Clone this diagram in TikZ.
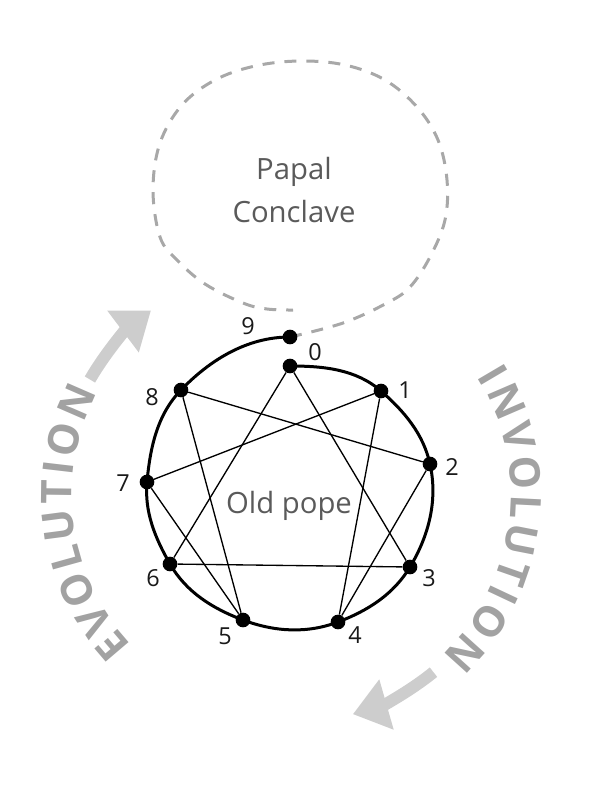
\documentclass[tikz,border=0pt]{standalone}
\usepackage{fontspec}
\setmainfont{Open Sans}
\usetikzlibrary{decorations.text,arrows.meta,calc}
\definecolor{dashgray}{HTML}{A8A8A8}
\definecolor{txtgray}{HTML}{5A5A5A}
\definecolor{evogray}{HTML}{A2A2A2}
\definecolor{arrgray}{HTML}{CDCDCD}
\newcommand\evofont{\fontsize{36}{36}\selectfont\bfseries\color{evogray}}
\begin{document}
\begin{tikzpicture}[x=0.03cm,y=0.03cm,
 dot/.style={circle,fill=black,inner sep=0pt,minimum size=0.44cm},
 num/.style={font=\fontsize{20}{20}\selectfont,text=black!90,inner sep=0pt},
 rim/.style={line width=0.09cm,line cap=round,looseness=0.9},
 chord/.style={line width=0.04cm},
 conclave/.style={dashgray,line width=0.09cm,dash pattern=on 0.36cm off 0.3cm},
 lbl/.style={font=\fontsize{25}{37.5}\selectfont,text=txtgray,align=center,inner sep=0pt},
 bigarrow/.style={arrgray,line width=0.36cm,-{Triangle[length=1.05cm,width=1.5cm]}}]
\useasboundingbox (0,0) rectangle (594,-786);
\coordinate (C) at (290,-495);
\coordinate (c0) at (290,-366);
\coordinate (c1) at (381,-391);
\coordinate (c2) at (430,-464);
\coordinate (c3) at (410,-567);
\coordinate (c4) at (338,-622);
\coordinate (c5) at (243,-620);
\coordinate (c6) at (170,-564);
\coordinate (c7) at (147,-482);
\coordinate (c8) at (181,-390);
\coordinate (c9) at (290,-337);
% dashed spiral (papal conclave)
\draw[conclave] plot[smooth, tension=0.6] coordinates {(c9) (343,-323) (387,-303) (410,-287) (430,-257) (445,-220) (447,-180) (438,-140) (417,-107) (385,-80) (345,-65) (300,-61) (255,-66) (215,-80) (182,-105) (160,-143) (153,-190) (160,-237) (177,-260) (205,-284) (243,-303) (267,-309) (293,-310)};
% rim
\draw[rim] (c0) to[out=0,in=138.8] (c1) to[out=-41.2,in=102.5] (c2)
  to[out=-77.5,in=59] (c3) to[out=-121,in=20.7] (c4) to[out=-159.3,in=-20.6] (c5)
  to[out=159.4,in=-60.1] (c6) to[out=119.9,in=-95.2] (c7) to[out=84.8,in=-134] (c8)
  to[out=46,in=180] (c9);
% dots
\foreach \i in {0,...,9} {\node[dot] (p\i) at (c\i) {};}
% chords
\draw[chord] (p0) -- (p3);
\draw[chord] (p3) -- (p6);
\draw[chord] (p6) -- (p0);
\draw[chord] (p1) -- (p4);
\draw[chord] (p4) -- (p2);
\draw[chord] (p2) -- (p8);
\draw[chord] (p8) -- (p5);
\draw[chord] (p5) -- (p7);
\draw[chord] (p7) -- (p1);
% numbers
\node[num] (l0) at (315,-352) {0};
\node[num] (l1) at (405,-390) {1};
\node[num] (l2) at (452,-467) {2};
\node[num] (l3) at (429,-578) {3};
\node[num] (l4) at (355,-635) {4};
\node[num] (l5) at (225,-636) {5};
\node[num] (l6) at (153,-578) {6};
\node[num] (l7) at (123,-483) {7};
\node[num] (l8) at (152,-397) {8};
\node[num] (l9) at (248,-326) {9};
% texts
\node[lbl] (pc) at (294,-190) {Papal\\Conclave};
\node[lbl,anchor=base] (op) at (289,-513) {Old pope};
% curved words
\path[decorate,decoration={text along path,text={|\evofont|EVOLUTION},text align={fit to path}}]
  ($(C)+(223.5:218)$) arc[start angle=223.5,end angle=152,radius=218];
\path[decorate,decoration={text along path,text={|\evofont|INVOLUTION},text align={fit to path}}]
  ($(C)+(32.3:221)$) arc[start angle=32.3,end angle=-46.5,radius=221];
% arrows
\draw[bigarrow] ($(C)+(150:231)$) arc[start angle=150,end angle=127,radius=231];
\draw[bigarrow] ($(C)+(-51:228)$) arc[start angle=-51,end angle=-74,radius=228];
\end{tikzpicture}
\end{document}
